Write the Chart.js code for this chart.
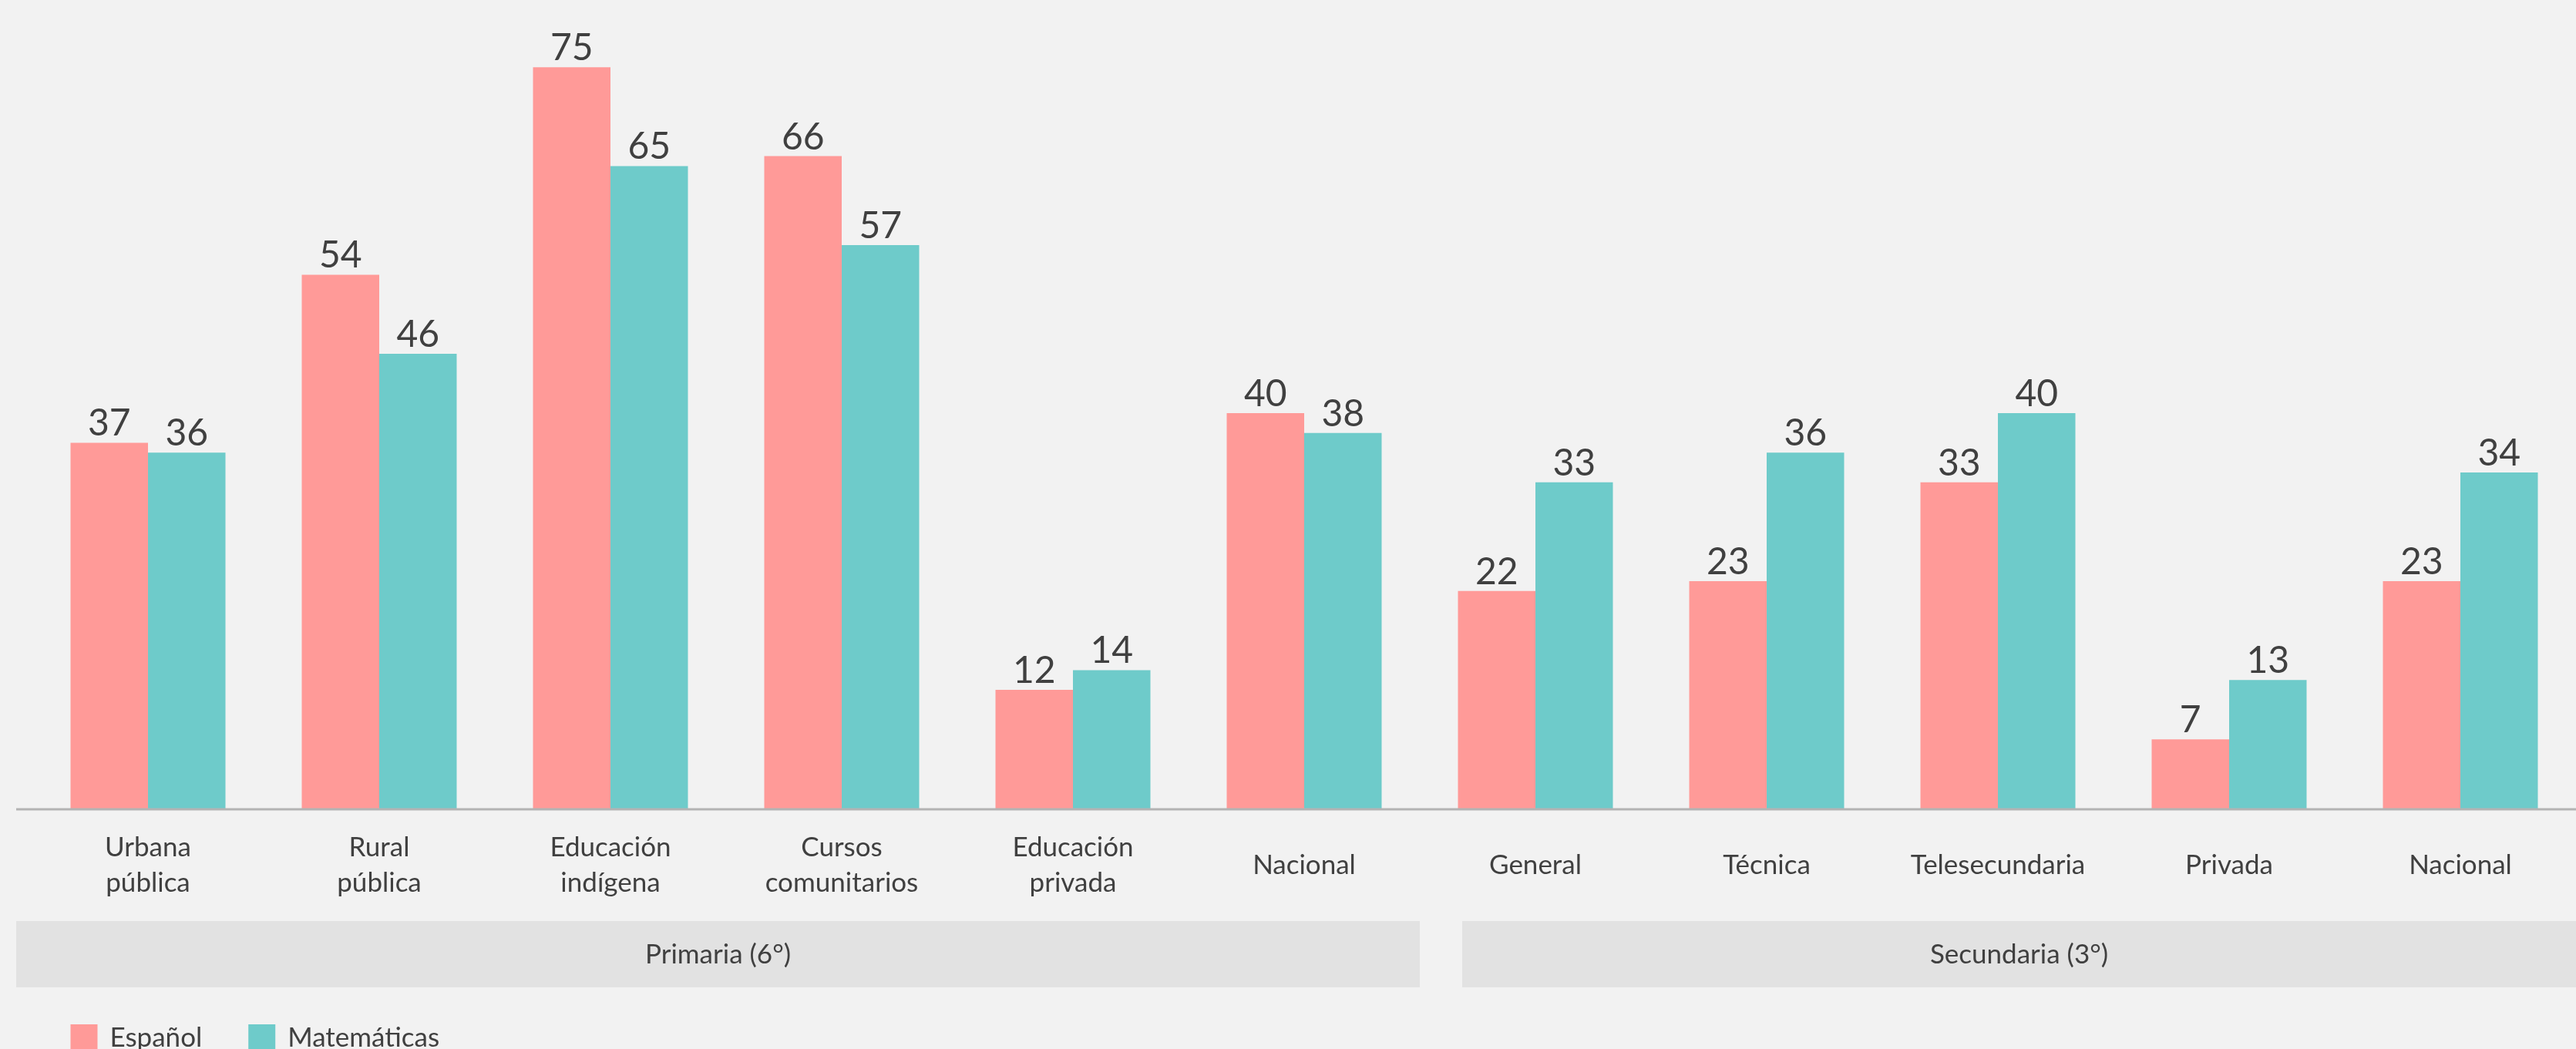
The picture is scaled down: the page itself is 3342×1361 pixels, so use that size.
<!DOCTYPE html>
<html>
<head>
<meta charset="utf-8">
<script src="https://cdn.jsdelivr.net/npm/chart.js@4"></script>
<style>
  html, body { margin: 0; padding: 0; background: #f2f2f2; overflow: hidden; }
  canvas { display: block; }
</style>
</head>
<body>
<canvas id="chart" width="3342" height="1361" style="width:3342px;height:1361px"></canvas>
<script>
const categories = [
  ['Urbana', 'pública'], ['Rural', 'pública'], ['Educación', 'indígena'],
  ['Cursos', 'comunitarios'], ['Educación', 'privada'], 'Nacional',
  'General', 'Técnica', 'Telesecundaria', 'Privada', 'Nacional'
];
const espanol = [37, 54, 75, 66, 12, 40, 22, 23, 33, 7, 23];
const matematicas = [36, 46, 65, 57, 14, 38, 33, 36, 40, 13, 34];
const groupLabels = ['Primaria (6°)', 'Secundaria (3°)'];
const groupSizes = [6, 5];

const textColor = '#404040';
const labelFont = '35px Lato';

// value labels above bars
const valueLabels = {
  id: 'valueLabels',
  afterDatasetsDraw(chart) {
    const ctx = chart.ctx;
    ctx.save();
    ctx.fillStyle = textColor;
    ctx.font = '48px Lato';
    ctx.textAlign = 'center';
    ctx.textBaseline = 'alphabetic';
    chart.data.datasets.forEach((ds, i) => {
      chart.getDatasetMeta(i).data.forEach((bar, j) => {
        ctx.fillText(ds.data[j], bar.x, bar.y - 9);
      });
    });
    ctx.restore();
  }
};

// baseline, group bands and legend
const decorations = {
  id: 'decorations',
  afterDraw(chart) {
    const ctx = chart.ctx;
    const area = chart.chartArea;
    const x = chart.scales.x;
    const half = (x.getPixelForValue(1) - x.getPixelForValue(0)) / 2;
    ctx.save();
    // axis line
    ctx.strokeStyle = '#b3b3b3';
    ctx.lineWidth = 3;
    ctx.beginPath();
    ctx.moveTo(area.left - 21, area.bottom + 1);
    ctx.lineTo(chart.width, area.bottom + 1);
    ctx.stroke();

    // group bands
    let start = 0;
    groupLabels.forEach((label, g) => {
      const end = start + groupSizes[g] - 1;
      let l = x.getPixelForValue(start) - half;
      let r = x.getPixelForValue(end) + half;
      l = g === 0 ? l - 21 : l + 55;
      if (g === groupLabels.length - 1) r = chart.width;
      const top = area.bottom + 146, h = 86;
      ctx.fillStyle = '#e2e2e2';
      ctx.fillRect(l, top, r - l, h);
      ctx.fillStyle = textColor;
      ctx.font = labelFont;
      ctx.textAlign = 'center';
      ctx.textBaseline = 'middle';
      ctx.fillText(label, (l + r) / 2, top + h / 2 + 1);
      start = end + 1;
    });

    // legend
    let lx = chart.getDatasetMeta(0).data[0].x - chart.getDatasetMeta(0).data[0].width / 2;
    const ly = area.bottom + 280;
    ctx.font = labelFont;
    ctx.textAlign = 'left';
    ctx.textBaseline = 'middle';
    chart.data.datasets.forEach(ds => {
      ctx.fillStyle = ds.backgroundColor;
      ctx.fillRect(lx, ly, 35, 35);
      ctx.fillStyle = textColor;
      ctx.fillText(ds.label, lx + 51, ly + 18);
      lx += 51 + ctx.measureText(ds.label).width + 60;
    });
    ctx.restore();
  }
};

new Chart(document.getElementById('chart'), {
  type: 'bar',
  data: {
    labels: categories,
    datasets: [
      { label: 'Español', data: espanol, backgroundColor: '#ff9a98' },
      { label: 'Matemáticas', data: matematicas, backgroundColor: '#6ecbca' }
    ]
  },
  options: {
    responsive: false,
    devicePixelRatio: 1,
    animation: false,
    layout: { padding: { top: 23, left: 42, right: 0, bottom: 119 } },
    datasets: { bar: { categoryPercentage: 0.67, barPercentage: 1.0 } },
    plugins: { legend: { display: false }, tooltip: { enabled: false } },
    scales: {
      x: {
        grid: { display: false, drawTicks: false },
        border: { display: false },
        ticks: {
          color: textColor,
          font: { family: 'Lato', size: 35, lineHeight: 1.3 },
          padding: 51,
          maxRotation: 0,
          autoSkip: false,
          crossAlign: 'center'
        }
      },
      y: {
        display: false,
        min: 0,
        max: 80
      }
    }
  },
  plugins: [valueLabels, decorations]
});
</script>
</body>
</html>
